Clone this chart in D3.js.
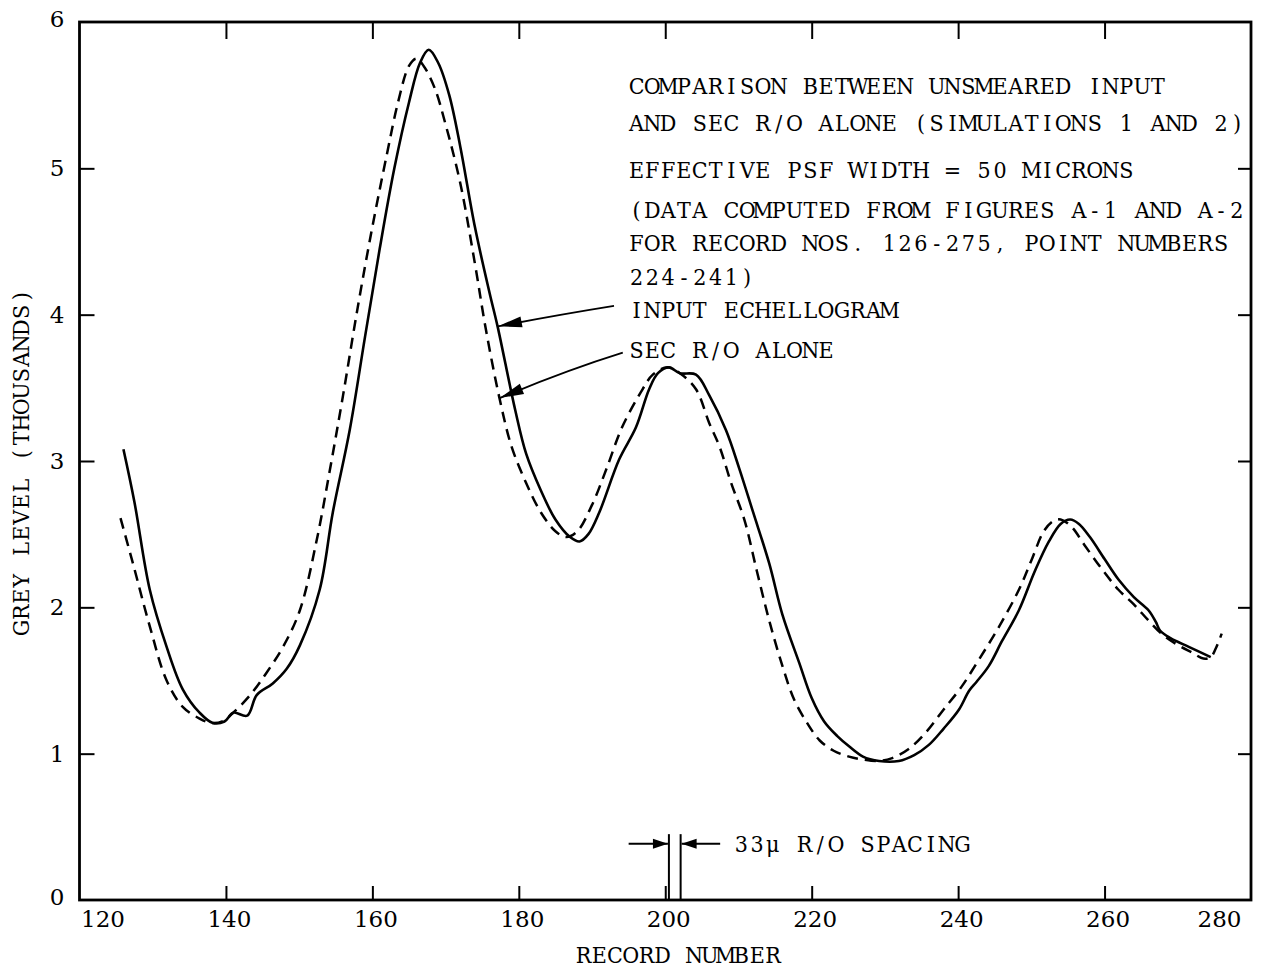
<!DOCTYPE html>
<html><head><meta charset="utf-8">
<script src="https://cdn.jsdelivr.net/npm/d3@7"></script>
<style>
body{margin:0;background:#fff}
svg text{font-family:"DejaVu Serif","Liberation Serif",serif;fill:#000}
</style>
</head><body>
<svg id="chart" width="1262" height="972"></svg>
<script>
// ---------- data ----------
const xTicks = [120,140,160,180,200,220,240,260,280];
const yTicks = [0,1,2,3,4,5,6];
const xTitle = "RECORD NUMBER";
const yTitle = "GREY LEVEL (THOUSANDS)";

// INPUT ECHELLOGRAM (solid)
const inputX = [126,127.5,129.6,131.9,134.1,136.4,138.2,139.8,141,142.9,144.2,146.4,148.3,150.1,152.8,154.6,156.9,159,161,163,165,166.5,167.7,169,170.5,172,174,176,177.1,179.5,181,183,185,187,188.3,189.5,191,193.7,196,197.8,199,200.5,202,204.2,206,208.3,210.1,212,214.2,216,218.3,220,221.7,223.5,225.1,227,229.2,231.9,234,236,238,240.1,241.5,242.5,244.2,246,248.3,250.5,252.4,254,255.3,256.5,258,260,261.9,264,266,267,267.6,269,271.5,274.5];
const inputY = [3.08,2.72,2.12,1.73,1.44,1.28,1.21,1.22,1.28,1.26,1.40,1.48,1.58,1.74,2.12,2.65,3.21,3.85,4.45,5.00,5.45,5.72,5.81,5.72,5.50,5.15,4.60,4.15,3.92,3.35,3.05,2.80,2.60,2.48,2.45,2.50,2.65,3.01,3.23,3.49,3.60,3.64,3.60,3.59,3.45,3.21,2.95,2.65,2.30,1.95,1.62,1.38,1.22,1.12,1.05,0.98,0.95,0.95,0.99,1.06,1.17,1.30,1.43,1.49,1.60,1.77,1.98,2.25,2.45,2.57,2.60,2.57,2.48,2.33,2.19,2.07,1.98,1.90,1.84,1.79,1.73,1.66];

// SEC R/O ALONE (dashed)
const secX = [125.6,127.3,129.6,131.9,134.1,136.4,138,139.5,141,143.3,145.5,147.8,150.1,152.4,154.2,156,158,160,162,163.5,165,166,167,168.5,170,172,174,175.5,177.4,179,181,183,185,186.5,188,190,192,194.1,196.9,198.3,200.3,202,204.2,206,207.4,209,210.8,212.5,214.2,216,217.6,219.5,221.1,223,225.1,227,229.2,231,233.2,235.5,238,240.5,242.8,245.5,248.3,250,251.7,253,254,255.5,257.2,259.5,261.9,264,266,268,270.1,272,273.5,274.5,275.2,276];
const secY = [2.61,2.30,1.87,1.50,1.32,1.24,1.21,1.22,1.28,1.40,1.55,1.73,1.98,2.46,2.94,3.45,4.05,4.60,5.10,5.45,5.70,5.75,5.70,5.55,5.30,4.90,4.35,3.90,3.42,3.10,2.85,2.65,2.52,2.48,2.52,2.70,2.95,3.23,3.49,3.59,3.64,3.60,3.49,3.26,3.10,2.85,2.60,2.25,1.91,1.60,1.37,1.20,1.09,1.02,0.98,0.96,0.95,0.97,1.03,1.14,1.30,1.46,1.64,1.86,2.12,2.32,2.52,2.59,2.60,2.55,2.43,2.27,2.12,2.02,1.91,1.81,1.74,1.69,1.65,1.66,1.72,1.82];

// annotation text (data-unit anchors)
const noteLines = [
  "COMPARISON BETWEEN UNSMEARED INPUT",
  "AND SEC R/O ALONE (SIMULATIONS 1 AND 2)",
  "EFFECTIVE PSF WIDTH = 50 MICRONS",
  "(DATA COMPUTED FROM FIGURES A-1 AND A-2",
  "FOR RECORD NOS. 126-275, POINT NUMBERS",
  "224-241)"
];
const noteLineY = [5.51,5.255,4.934,4.661,4.435,4.203];
const noteX = 195;
const legendLabels = ["INPUT ECHELLOGRAM","SEC R/O ALONE"];
const legendLabelY = [3.977,3.704];
const legendStart = [[193.0,4.06],[194.2,3.74]];
const legendMid   = [[185.5,4.00],[186.5,3.62]];
const legendTip   = [[177.15,3.92],[177.4,3.43]];
const spacingMarks = [200.5,202.1];
const spacingLabel = "33\u03bc R/O SPACING";

// ---------- drawing ----------
const svg = d3.select("#chart");
const x = d3.scaleLinear().domain([120,280]).range([79.5,1251]);
const y = d3.scaleLinear().domain([0,6]).range([900,22]);
const FS = 23;
const PITCH = 15.8;   // typewriter character pitch in px
const SQ = 0.9;       // horizontal glyph squeeze
// place every character in its own fixed-pitch cell (typewriter look)
function typed(sel, str, x0, y0){
  const xs = Array.from(str).map((c,i)=> (((i+0.5)*PITCH)/SQ).toFixed(1)).join(" ");
  sel.attr("transform", `translate(${x0},${y0})`).append("text").attr("transform",`scale(${SQ},1)`)
    .attr("x", xs).attr("y",0).attr("text-anchor","middle").attr("font-size",FS).text(str);
}

// frame
svg.append("rect").attr("x",x(120)).attr("y",y(6)).attr("width",x(280)-x(120)).attr("height",y(0)-y(6))
  .attr("fill","none").attr("stroke","#000").attr("stroke-width",2.8);

const styleAxis = g => { g.select(".domain").remove(); g.selectAll("line").attr("stroke","#000").attr("stroke-width",2); g.selectAll("text").attr("font-size",23).attr("font-family","DejaVu Serif"); };

// bottom
const gb = svg.append("g").attr("transform",`translate(0,${y(0)})`)
  .call(d3.axisBottom(x).tickValues(xTicks).tickSizeInner(-14).tickSizeOuter(0).tickPadding(11).tickFormat(d3.format("d")))
  .call(styleAxis);
gb.selectAll(".tick text").attr("dx", d => d===120 ? 23 : (d===280 ? -32 : 3));
gb.selectAll(".tick line").filter(d => d===120 || d===280).remove();
// top
svg.append("g").attr("transform",`translate(0,${y(6)})`)
  .call(d3.axisTop(x).tickValues(xTicks.filter(d=>d>120&&d<280)).tickSizeInner(-17).tickSizeOuter(0).tickFormat(""))
  .call(styleAxis);
// left
const gl = svg.append("g").attr("transform",`translate(${x(120)},0)`)
  .call(d3.axisLeft(y).tickValues(yTicks).tickSizeInner(-15).tickSizeOuter(0).tickPadding(15).tickFormat(d3.format("d")))
  .call(styleAxis);
gl.selectAll(".tick line").filter(d => d===0 || d===6).remove();
gl.selectAll(".tick text").attr("dy", d => (d===0 || d===6) ? "0.2em" : "0.32em");
// right
svg.append("g").attr("transform",`translate(${x(280)},0)`)
  .call(d3.axisRight(y).tickValues(yTicks.filter(d=>d>0&&d<6)).tickSizeInner(-13).tickSizeOuter(0).tickFormat(""))
  .call(styleAxis);

// titles
const xc = (x(120)+x(280))/2 + 13;
svg.append("g").call(typed, xTitle, xc - xTitle.length*PITCH/2, 963);
svg.append("g").attr("transform",`translate(29,${y(3)+1}) rotate(-90)`)
  .append("g").call(typed, yTitle, -yTitle.length*PITCH/2, 0);

// lines
const line = d3.line().x(d=>x(d[0])).y(d=>y(d[1])).curve(d3.curveCatmullRom.alpha(0.5));
svg.append("path").datum(secX.map((v,i)=>[v,secY[i]])).attr("d",line)
  .attr("fill","none").attr("stroke","#000").attr("stroke-width",2.5).attr("stroke-dasharray","11,7");
svg.append("path").datum(inputX.map((v,i)=>[v,inputY[i]])).attr("d",line)
  .attr("fill","none").attr("stroke","#000").attr("stroke-width",2.6);

// notes
noteLines.forEach((t,i)=>{
  svg.append("g").call(typed, t, x(noteX), y(noteLineY[i]));
});
legendLabels.forEach((t,i)=>{
  svg.append("g").call(typed, t, x(noteX), y(legendLabelY[i]));
  const p0=[x(legendStart[i][0]),y(legendStart[i][1])], p1=[x(legendMid[i][0]),y(legendMid[i][1])], p2=[x(legendTip[i][0]),y(legendTip[i][1])];
  svg.append("path").attr("d",`M${p0}Q${p1} ${p2}`).attr("fill","none").attr("stroke","#000").attr("stroke-width",1.8);
  const ang=Math.atan2(p2[1]-p1[1],p2[0]-p1[0]);
  const L=24,W=5.5;
  const bx=p2[0]-L*Math.cos(ang), by=p2[1]-L*Math.sin(ang);
  const nx=-Math.sin(ang)*W, ny=Math.cos(ang)*W;
  svg.append("path").attr("d",`M${p2}L${bx+nx},${by+ny}L${bx-nx},${by-ny}Z`).attr("fill","#000");
});

// spacing marker
spacingMarks.forEach(v=>{
  svg.append("line").attr("x1",x(v)).attr("x2",x(v)).attr("y1",y(0)).attr("y2",y(0.45)).attr("stroke","#000").attr("stroke-width",2);
});
const ay=y(0.385);
function arrow(xa,xb){
  svg.append("line").attr("x1",xa).attr("x2",xb).attr("y1",ay).attr("y2",ay).attr("stroke","#000").attr("stroke-width",2);
  const dir=Math.sign(xb-xa);
  svg.append("path").attr("d",`M${xb},${ay}L${xb-dir*15},${ay-5}L${xb-dir*15},${ay+5}Z`).attr("fill","#000");
}
arrow(x(195.0),x(spacingMarks[0])-1);
arrow(x(207.5),x(spacingMarks[1])+1);
svg.append("g").call(typed, spacingLabel, x(209.3), y(0.33));
</script>
</body></html>
